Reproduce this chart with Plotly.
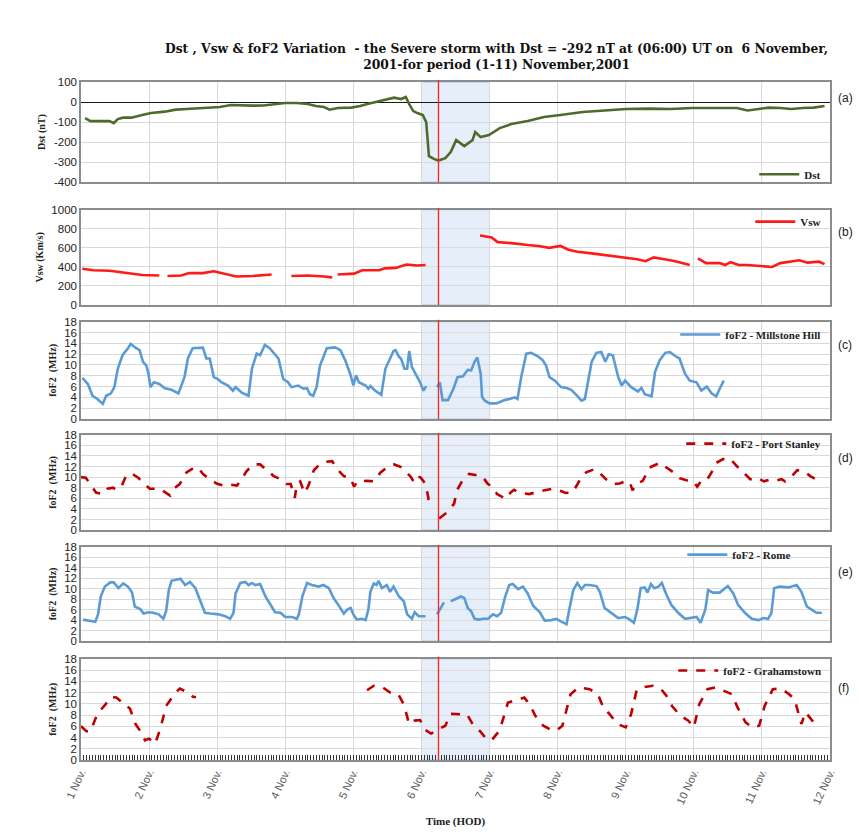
import plotly.graph_objects as go

# ---- time axis: days elapsed since 1 Nov 2001 00:00 UT ----
day_ticks = list(range(12))
day_labels = [f"{d} Nov." for d in range(1, 13)]
storm_peak_day = 5.25          # 6 Nov, 06:00 UT
storm_band = (5.0, 6.0)        # 6 Nov -> 7 Nov

# ---- (a) Dst index (nT) ----
dst_ticks = [-400, -300, -200, -100, 0, 100]
dst_ticktext = ["-400", "-300", "-200", "-100", "0", "100"]
dst_day = [0.06, 0.14, 0.22, 0.34, 0.42, 0.48, 0.54, 0.62, 0.74, 0.9, 1.03, 1.23, 1.39, 1.55, 1.71,
           1.87, 2.04, 2.2, 2.36, 2.52, 2.68, 2.84, 3.0, 3.17, 3.33, 3.45, 3.57, 3.65, 3.77, 3.97,
           4.1, 4.22, 4.38, 4.5, 4.6, 4.7, 4.77, 4.82, 4.88, 4.94, 5.02, 5.07, 5.11, 5.19, 5.25,
           5.35, 5.43, 5.51, 5.63, 5.75, 5.79, 5.87, 5.99, 6.15, 6.32, 6.56, 6.8, 7.04, 7.37,
           7.69, 8.0, 8.34, 8.66, 8.98, 9.3, 9.63, 9.79, 9.95, 10.1, 10.27, 10.43, 10.6, 10.76, 10.92]
dst_val = [-80, -95, -95, -95, -95, -105, -85, -78, -78, -65, -55, -48, -38, -35, -32,
           -30, -25, -15, -18, -18, -17, -12, -5, -5, -10, -20, -25, -38, -30, -28,
           -20, -8, 5, 15, 22, 15, 25, -10, -45, -55, -65, -100, -270, -285, -292,
           -280, -250, -190, -220, -190, -150, -175, -165, -130, -110, -95, -75, -65, -50,
           -42, -35, -33, -35, -30, -30, -30, -42, -35, -28, -30, -35, -30, -28, -20]

# ---- (b) solar wind speed Vsw (km/s); None marks data gaps ----
vsw_day = [0.02, 0.18, 0.42, 0.66, 0.9, 1.15, 1.21,
           1.27, 1.47, 1.59, 1.79, 1.95, 2.12, 2.28, 2.52, 2.8, 2.95,
           3.09, 3.33, 3.57, 3.69, 3.73,
           3.77, 4.01, 4.13, 4.38, 4.46, 4.62, 4.78, 4.94, 5.06, 5.4,
           5.86, 6.03, 6.12, 6.32, 6.56, 6.72, 6.88, 7.04, 7.16, 7.29, 7.53, 7.77, 8.01, 8.17,
           8.29, 8.41, 8.57, 8.73, 8.94, 9.0,
           9.06, 9.18, 9.38, 9.46, 9.54, 9.66, 9.78, 9.95, 10.15, 10.27, 10.43, 10.55, 10.67,
           10.84, 10.92]
vsw_val = [380, 365, 360, 340, 315, 310, None,
           305, 310, 335, 335, 355, 330, 300, 305, 320, None,
           305, 310, 300, 290, None,
           320, 330, 365, 365, 385, 390, 425, 415, 420, None,
           730, 710, 660, 650, 630, 620, 600, 620, 580, 560, 540, 520, 500, 480,
           460, 500, 480, 460, 420, None,
           490, 440, 440, 420, 450, 420, 420, 410, 400, 440, 460, 470, 445,
           455, 430]

# ---- (c) foF2 Millstone Hill (MHz) ----
mh_day = [0.02, 0.1, 0.17, 0.24, 0.32, 0.37, 0.44, 0.49, 0.54, 0.61, 0.69, 0.73, 0.81, 0.86,
          0.91, 0.96, 0.99, 1.02, 1.07, 1.15, 1.23, 1.33, 1.43, 1.52, 1.57, 1.64, 1.79, 1.84,
          1.89, 1.95, 2.01, 2.06, 2.16, 2.23, 2.27, 2.36, 2.46, 2.51, 2.58, 2.63, 2.7, 2.77,
          2.9, 2.97, 3.04, 3.09, 3.19, 3.27, 3.32, 3.36, 3.41, 3.46, 3.51, 3.61, 3.73, 3.81,
          3.88, 3.96, 4.0, 4.04, 4.08, 4.18, 4.22, 4.25, 4.32, 4.41, 4.47, 4.54, 4.59, 4.62,
          4.67, 4.7, 4.75, 4.79, 4.82, 4.86, 4.91, 4.98, 5.03, 5.07, 5.15,
          5.23, 5.27, 5.31, 5.39, 5.47, 5.53, 5.61, 5.68, 5.73, 5.78, 5.82, 5.87, 5.89, 5.93,
          6.0, 6.1, 6.17, 6.22, 6.29, 6.37, 6.41, 6.47, 6.54, 6.61, 6.71, 6.78, 6.83, 6.88,
          6.96, 7.0, 7.05, 7.13, 7.2, 7.27, 7.35, 7.4, 7.45, 7.5, 7.57, 7.64, 7.7, 7.75, 7.81,
          7.89, 7.94, 7.99, 8.08, 8.18, 8.23, 8.28, 8.38, 8.43, 8.5, 8.58, 8.65, 8.72, 8.79,
          8.87, 8.94, 9.04, 9.11, 9.19, 9.26, 9.33, 9.38, 9.44]
mh_val = [7.6, 6.5, 4.3, 3.7, 2.8, 4.3, 4.75, 5.9, 9.3, 11.8, 13.1, 13.9, 13.1, 12.75,
          10.6, 9.9, 8.4, 5.9, 6.8, 6.5, 5.7, 5.4, 4.75, 7.75, 11.2, 13.1, 13.2, 11.2,
          11.2, 7.75, 7.4, 6.8, 6.2, 5.25, 5.9, 4.9, 4.3, 9.3, 12.1, 11.8, 13.7, 13.1,
          11.2, 7.4, 6.8, 5.9, 6.2, 5.6, 5.7, 4.6, 4.3, 5.9, 9.9, 13.1, 13.25, 12.75,
          10.9, 8.1, 6.2, 8.1, 6.8, 6.2, 5.6, 6.1, 5.25, 4.5, 9.3, 11.2, 12.6, 12.75,
          11.5, 11.2, 9.3, 9.3, 12.6, 9.6, 8.4, 6.8, 5.25, 6.1, None,
          5.9, 6.8, 3.5, 3.5, 5.6, 7.75, 7.9, 9.1, 9.0, 10.6, 11.4, 8.4, 4.1, 3.4,
          2.9, 2.9, 3.25, 3.5, 3.7, 4.0, 3.7, 8.1, 12.1, 12.25, 11.6, 10.9, 9.9, 7.75,
          7.1, 6.5, 5.9, 5.75, 5.4, 4.5, 3.4, 3.7, 7.1, 10.6, 12.25, 12.4, 10.6, 12.0, 11.8,
          7.75, 6.2, 7.1, 5.9, 5.1, 5.75, 4.6, 4.2, 8.7, 10.9, 12.25, 12.4, 11.7, 11.2,
          8.4, 7.1, 6.8, 5.25, 6.0, 4.75, 4.2, 5.6, 7.1]

# ---- (d) foF2 Port Stanley (MHz) ----
ps_day = [0.0, 0.07, 0.15, 0.22, 0.32, 0.39, 0.47, 0.52, 0.59, 0.66, 0.74, 0.84, 0.91, 1.01,
          1.16, 1.25, 1.31, 1.38, 1.45, 1.55, 1.65, 1.72, 1.79, 1.89, 1.99, 2.09, 2.19, 2.29,
          2.36, 2.43, 2.53, 2.63, 2.73, 2.83, 2.93, 3.02, 3.08, 3.14, 3.17, 3.22, 3.28, 3.34,
          3.42, 3.51, 3.61, 3.69, 3.76, 3.86, 3.96, 4.01, 4.06, 4.2, 4.3, 4.4, 4.5, 4.6, 4.7,
          4.77, 4.84, 4.89, 4.94, 4.99, 5.06, 5.1, 5.11, 5.18,
          5.26, 5.38, 5.48, 5.52, 5.6, 5.7, 5.79, 5.89, 5.97, 6.04, 6.11, 6.24, 6.31, 6.36,
          6.43, 6.58, 6.73, 6.83, 6.92, 7.02, 7.12, 7.22, 7.32, 7.42, 7.54, 7.61, 7.71, 7.81,
          7.91, 8.01, 8.06, 8.1, 8.15, 8.25, 8.35, 8.5, 8.6, 8.7, 8.79, 8.89, 8.99, 9.05, 9.11,
          9.19, 9.26, 9.33, 9.43, 9.53, 9.63, 9.73, 9.83, 9.93, 10.03, 10.13, 10.22, 10.29,
          10.34, 10.42, 10.52, 10.62, 10.71, 10.79, 10.86]
ps_val = [10.0, 9.9, 8.4, 7.1, 6.8, 7.8, 8.0, 7.6, 8.1, 10.2, 10.7, 9.9, 9.0, 7.8,
          7.8, 7.1, 6.5, 8.0, 8.7, 10.9, 11.7, 11.8, 10.6, 9.6, 8.8, 8.4, 8.6, 8.4,
          9.6, 11.1, 12.4, 12.4, 11.3, 10.2, 9.6, 8.7, 8.7, 6.1, 8.7, 9.2, 7.0, 8.4,
          11.3, 12.5, 12.9, 13.0, 11.5, 10.2, 9.8, 8.2, 9.2, 9.3, 9.2, 10.9, 11.9, 12.4, 11.9,
          10.9, 10.1, 9.1, 10.2, 9.9, 8.7, 6.2, 4.7, None,
          2.2, 3.4, 5.0, 7.5, 9.3, 10.6, 10.4, 10.2, 8.8, 8.1, 6.8, 5.9, 7.1, 7.6,
          7.1, 6.8, 7.3, 7.5, 7.8, 7.5, 7.0, 7.1, 9.3, 10.9, 11.5, 10.9, 9.6, 8.7,
          8.8, 9.3, 9.0, 7.5, 8.7, 9.3, 11.8, 12.7, 11.8, 10.9, 9.8, 9.4, 9.3, 8.2, 9.3,
          9.4, 10.9, 12.7, 13.4, 13.5, 12.1, 10.9, 9.6, 9.9, 9.2, 9.6, 9.4, 9.6,
          9.2, 9.9, 11.3, 11.1, 10.2, 9.6, 8.9]

# ---- (e) foF2 Rome (MHz) ----
rome_day = [0.03, 0.13, 0.21, 0.25, 0.29, 0.35, 0.43, 0.48, 0.55, 0.62, 0.69, 0.75, 0.79, 0.87,
            0.92, 0.99, 1.06, 1.14, 1.21, 1.25, 1.29, 1.33, 1.41, 1.46, 1.53, 1.6, 1.68, 1.75,
            1.82, 1.9, 2.02, 2.12, 2.19, 2.24, 2.27, 2.34, 2.41, 2.46, 2.51, 2.56, 2.63, 2.71,
            2.78, 2.85, 2.93, 3.0, 3.1, 3.17, 3.2, 3.25, 3.32, 3.39, 3.49, 3.56, 3.64, 3.71,
            3.78, 3.86, 3.91, 3.96, 4.0, 4.05, 4.13, 4.18, 4.22, 4.25, 4.3, 4.34, 4.37, 4.42,
            4.49, 4.54, 4.59, 4.67, 4.74, 4.79, 4.86, 4.9, 4.96, 5.06, 5.15,
            5.23, 5.33, 5.38,
            5.43, 5.52, 5.58, 5.63, 5.68, 5.73, 5.78, 5.85, 5.9, 5.98, 6.05, 6.11, 6.17, 6.23,
            6.29, 6.34, 6.42, 6.49, 6.56, 6.64, 6.74, 6.81, 6.91, 6.98, 7.05, 7.13, 7.18, 7.23,
            7.29, 7.35, 7.4, 7.47, 7.57, 7.62, 7.69, 7.79, 7.89, 7.99, 8.06, 8.12, 8.17, 8.22,
            8.28, 8.32, 8.37, 8.42, 8.48, 8.53, 8.6, 8.67, 8.77, 8.87, 8.97, 9.04, 9.1, 9.17,
            9.21, 9.28, 9.38, 9.43, 9.5, 9.58, 9.65, 9.75, 9.85, 9.95, 10.02, 10.09, 10.14,
            10.18, 10.26, 10.39, 10.51, 10.58, 10.66, 10.73, 10.8, 10.88]
rome_val = [4.1, 3.9, 3.7, 5.1, 8.5, 10.4, 11.2, 11.2, 10.1, 11.0, 10.4, 9.25, 6.6, 6.1,
            5.25, 5.5, 5.4, 5.1, 4.25, 5.7, 9.75, 11.5, 11.75, 11.9, 10.7, 11.3, 10.1, 7.9,
            5.4, 5.25, 5.1, 4.75, 4.25, 5.4, 9.1, 11.1, 11.3, 10.7, 11.1, 10.7, 10.9, 8.5,
            6.9, 5.5, 5.4, 4.6, 4.6, 4.25, 5.1, 8.5, 11.1, 10.7, 10.4, 10.7, 10.1, 8.2,
            6.9, 5.25, 6.0, 6.3, 5.1, 4.1, 4.25, 4.0, 6.0, 9.4, 11.0, 10.7, 11.5, 10.1,
            10.7, 9.4, 10.4, 8.5, 7.6, 5.1, 4.25, 5.5, 4.75, 4.75, None,
            5.1, 7.4, None,
            7.6, 8.2, 8.5, 8.2, 6.3, 5.7, 4.25, 4.1, 4.25, 4.25, 5.1, 4.75, 5.4, 8.5,
            10.7, 10.9, 9.9, 10.4, 9.1, 6.75, 5.5, 3.9, 4.0, 4.25, 3.8, 3.2, 6.6, 9.75,
            11.1, 9.9, 10.7, 10.7, 10.5, 9.4, 6.3, 5.4, 4.4, 4.6, 4.1, 3.5, 6.0, 10.1,
            10.25, 9.25, 10.9, 10.1, 10.4, 11.1, 8.8, 6.9, 5.4, 4.25, 4.4, 4.6, 3.5, 6.1,
            9.75, 9.25, 9.25, 9.75, 10.5, 9.1, 6.9, 5.4, 4.25, 4.0, 4.4, 4.25, 5.4,
            10.1, 10.4, 10.25, 10.7, 9.4, 6.6, 6.0, 5.4, 5.4]

# ---- (f) foF2 Grahamstown (MHz) ----
gr_day = [0.0, 0.08, 0.14, 0.24, 0.36, 0.44, 0.52, 0.64, 0.72, 0.8, 0.88, 0.94, 1.0, 1.09,
          1.17, 1.25, 1.37, 1.45, 1.57, 1.65, 1.69, 2.9,
          4.2, 4.3, 4.42, 4.54, 4.66, 4.74, 4.82, 4.9, 4.98, 5.06, 5.14, 5.23, 5.35, 5.43,
          5.55, 5.67, 5.75, 5.87, 5.95, 6.03, 6.15, 6.27, 6.43, 6.51, 6.59, 6.67, 6.79, 6.91,
          6.99, 7.07, 7.19, 7.31, 7.47, 7.59, 7.68, 7.76, 7.88, 8.0, 8.08,
          8.16, 8.28, 8.4, 8.52, 8.6, 8.68, 8.8, 8.92, 9.0, 9.08, 9.2, 9.32, 9.44, 9.56, 9.64,
          9.76, 9.86, 9.96, 10.04, 10.16, 10.28, 10.4, 10.48, 10.58, 10.64, 10.72, 10.8]
gr_val = [6.0, 5.1, 5.1, 8.2, 9.9, 11.2, 11.1, 9.9, 9.1, 6.4, 5.0, 3.5, 3.8, 2.9,
          5.8, 9.6, 11.7, 12.7, 12.0, 11.2, 11.2, None,
          12.4, 13.2, 13.0, 12.0, 11.7, 9.9, 6.4, 7.0, 7.1, 5.3, 4.7, 5.3, 6.1, 8.2,
          8.2, 8.1, 6.4, 5.0, 3.8, 3.5, 5.3, 10.2, 10.8, 11.1, 9.9, 7.9, 6.1, 5.3,
          5.3, 6.1, 11.7, 12.9, 12.6, 11.7, 9.1, 8.2, 6.4, 5.8, 8.2,
          12.4, 13.0, 13.2, 12.6, 11.4, 9.6, 7.9, 7.0, 5.8, 9.9, 12.6, 12.9, 12.3, 11.7, 9.4,
          6.7, 5.8, 6.1, 9.6, 12.6, 12.7, 11.7, 10.8, 6.4, 8.5, 7.3, 6.1]

# ---- styling ----
SERIF = "Liberation Serif"
SANS = "Liberation Sans"
GRID = "#d9d9d9"
FRAME = "#8c8c8c"
GREEN = "#4e6b2e"
RED = "#ff1a1a"
BLUE = "#5b9bd5"
DARKRED = "#c00000"

panels = [
    dict(day=dst_day, val=dst_val, name="Dst", color=GREEN, dash="solid",
         dom=(0.8522, 1.0), rng=[-400, 100], dt=100, title="Dst (nT)",
         leg_y=0.864, leg_x=0.995, tag="(a)", tag_y=0.99),
    dict(day=vsw_day, val=vsw_val, name="Vsw", color=RED, dash="solid",
         dom=(0.6710, 0.8116), rng=[0, 1000], dt=200, title="Vsw (Km/s)",
         leg_y=0.794, leg_x=0.995, tag="(b)", tag_y=0.792),
    dict(day=mh_day, val=mh_val, name="foF2 - Millstone Hill", color=BLUE, dash="solid",
         dom=(0.5029, 0.6464), rng=[0, 18], dt=2, title="foF2  (MHz)",
         leg_y=0.6275, leg_x=0.995, tag="(c)", tag_y=0.625),
    dict(day=ps_day, val=ps_val, name="foF2 - Port Stanley", color=DARKRED, dash="dash",
         dom=(0.3391, 0.4797), rng=[0, 18], dt=2, title="foF2  (MHz)",
         leg_y=0.4667, leg_x=0.995, tag="(d)", tag_y=0.458),
    dict(day=rome_day, val=rome_val, name="foF2 - Rome", color=BLUE, dash="solid",
         dom=(0.1754, 0.3145), rng=[0, 18], dt=2, title="foF2  (MHz)",
         leg_y=0.3029, leg_x=0.955, tag="(e)", tag_y=0.291),
    dict(day=gr_day, val=gr_val, name="foF2 - Grahamstown", color=DARKRED, dash="dash",
         dom=(0.0, 0.1493), rng=[0, 18], dt=2, title="foF2  (MHz)",
         leg_y=0.1319, leg_x=0.995, tag="(f)", tag_y=0.12),
]

fig = go.Figure()
layout = {}
shapes = []
annotations = []

for i, p in enumerate(panels, start=1):
    sfx = "" if i == 1 else str(i)
    leg = "legend" if i == 1 else f"legend{i}"
    fig.add_trace(go.Scatter(
        x=p["day"], y=p["val"], mode="lines", name=f"<b>{p['name']}</b>",
        line=dict(color=p["color"], width=2.6, dash=p["dash"]),
        xaxis=f"x{sfx}", yaxis=f"y{sfx}", legend=leg, connectgaps=False,
    ))

    xa = dict(range=[0, 11], domain=[0, 1], anchor=f"y{sfx}",
              tickmode="linear", tick0=0, dtick=1,
              showgrid=True, gridcolor=GRID, gridwidth=1,
              showline=True, mirror=True, linecolor=FRAME, linewidth=1.5,
              zeroline=False, showticklabels=False, ticks="")
    if i > 1:
        xa["matches"] = "x"
    if i == 6:
        xa.update(showticklabels=True,
                  labelalias={str(d): lab for d, lab in zip(day_ticks, day_labels)},
                  tickangle=-65,
                  tickfont=dict(family=SANS, size=11, color="#595959"),
                  ticks="inside", ticklen=5, tickcolor="#333",
                  minor=dict(dtick=1 / 24, ticks="inside", ticklen=5,
                             tickcolor="#333", tickwidth=1, showgrid=False),
                  title=dict(text="<b>Time (HOD)</b>", standoff=12,
                             font=dict(family=SERIF, size=11, color="#222")))
    layout[f"xaxis{sfx}"] = xa

    ya = dict(range=p["rng"], domain=list(p["dom"]), anchor=f"x{sfx}", dtick=p["dt"],
              showgrid=True, gridcolor=GRID, gridwidth=1,
              showline=True, mirror=True, linecolor=FRAME, linewidth=1.5,
              tickfont=dict(family=SANS, size=11.5, color="#222"),
              ticks="", zeroline=(i == 1), zerolinecolor="#1a1a1a", zerolinewidth=1.2,
              title=dict(text=f"<b>{p['title']}</b>", standoff=6,
                         font=dict(family=SERIF, size=10, color="#222")))
    if i == 1:
        ya.update(tickmode="array", tickvals=dst_ticks, ticktext=dst_ticktext)
    layout[f"yaxis{sfx}"] = ya

    layout[leg] = dict(x=p["leg_x"], y=p["leg_y"], xanchor="right", yanchor="middle",
                       bgcolor="rgba(0,0,0,0)", borderwidth=0, itemwidth=40,
                       font=dict(family=SERIF, size=11, color="#222"))

    # storm day band and the storm-peak marker
    shapes.append(dict(type="rect", xref=f"x{sfx}", yref=f"y{sfx} domain",
                       x0=storm_band[0], x1=storm_band[1], y0=0, y1=1,
                       fillcolor="rgba(197,217,241,0.45)",
                       line=dict(color="rgba(160,185,215,0.8)", width=1), layer="below"))
    shapes.append(dict(type="line", xref=f"x{sfx}", yref=f"y{sfx} domain",
                       x0=storm_peak_day, x1=storm_peak_day, y0=0, y1=1.02,
                       line=dict(color="#ff2020", width=1.3)))

    annotations.append(dict(text=p["tag"], xref="paper", yref="paper", x=1.008, y=p["tag_y"],
                            xanchor="left", yanchor="top", showarrow=False,
                            font=dict(family=SANS, size=12, color="#222")))

annotations.append(dict(
    text="<b>Dst , Vsw & foF2 Variation  - the Severe storm with Dst = -292 nT at (06:00) UT on  6 November,"
         "<br>2001-for period (1-11) November,2001</b>",
    xref="paper", yref="paper", x=0.555, y=1.038, xanchor="center", yanchor="middle",
    showarrow=False, font=dict(family="DejaVu Serif", size=12.3, color="#111")))

fig.update_layout(
    width=859, height=838,
    margin=dict(l=81, r=29, t=82, b=66),
    paper_bgcolor="white", plot_bgcolor="white",
    showlegend=True, shapes=shapes, annotations=annotations,
    **layout,
)

fig.write_html("out.html")
